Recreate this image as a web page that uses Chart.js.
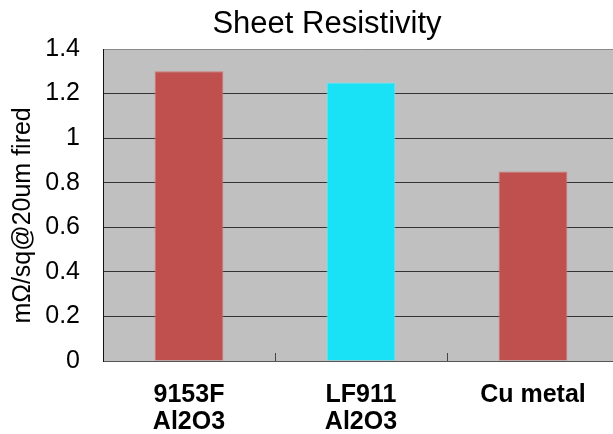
<!DOCTYPE html>
<html>
<head>
<meta charset="utf-8">
<style>
  body { margin: 0; background: #fff; }
  #wrap { width: 613px; height: 434px; overflow: hidden; }
</style>
<script src="https://cdn.jsdelivr.net/npm/chart.js@4/dist/chart.umd.min.js"></script>
</head>
<body>
<div id="wrap"><canvas id="chart" width="620" height="434"></canvas></div>
<script>
const chartTitle = "Sheet Resistivity";
const yTitle = "mΩ/sq@20um fired";
const categories = [["9153F", "Al2O3"], ["LF911", "Al2O3"], ["Cu metal"]];
const resistivity = [1.3, 1.25, 0.85];
const barColors = ["#C0504D", "#19E2F6", "#C0504D"];
const yMin = 0;
const yMax = 1.4;
const yStep = 0.2;

// grey plot area like the old excel chart
const plotBackground = {
  id: "plotBackground",
  beforeDraw(chart) {
    const { ctx, chartArea } = chart;
    ctx.save();
    ctx.fillStyle = "#C0C0C0";
    ctx.fillRect(chartArea.left, chartArea.top, chartArea.right - chartArea.left, chartArea.bottom - chartArea.top);
    ctx.restore();
  },
};

// title is a bit right of centre in the original
const titleText = {
  id: "titleText",
  afterDraw(chart) {
    const ctx = chart.ctx;
    ctx.save();
    ctx.font = "31px 'Liberation Sans', Arial, sans-serif";
    ctx.fillStyle = "#000";
    ctx.textAlign = "center";
    ctx.textBaseline = "alphabetic";
    ctx.fillText(chartTitle, 327, 33);
    ctx.restore();
  },
};

const data = {
  labels: categories,
  datasets: [
    {
      label: chartTitle,
      data: resistivity,
      backgroundColor: barColors,
      borderColor: ["#CF7B78", "#6CEEFA", "#CF7B78"],
      borderWidth: 1,
      barPercentage: 0.4,
      categoryPercentage: 1,
    },
  ],
};

const config = {
  type: "bar",
  data,
  options: {
    responsive: false,
    animation: false,
    layout: {
      // canvas is a few px wider than the window, plot runs off the right edge
      padding: { top: 49, right: 1, left: 0, bottom: 0 },
    },
    plugins: {
      legend: { display: false },
      title: { display: false },
      tooltip: { enabled: false },
    },
    scales: {
      x: {
        offset: true,
        grid: {
          offset: true,
          drawOnChartArea: false,
          drawTicks: true,
          tickLength: -8,
          color: "#444",
        },
        border: { display: true, color: "#555", width: 1 },
        ticks: {
          color: "#000",
          padding: 29,
          maxRotation: 0,
          font: { family: "'Liberation Sans', Arial, sans-serif", size: 25, weight: "bold", lineHeight: 1.08 },
        },
        afterFit(scale) {
          scale.height = 73;
        },
      },
      y: {
        min: yMin,
        max: yMax,
        grid: {
          drawTicks: false,
          color: (c) => (c.tick && c.tick.value >= yMax - 0.001 ? "#8A8A8A" : "#333"),
        },
        border: { display: true, color: "#111", width: 1 },
        ticks: {
          stepSize: yStep,
          color: "#000",
          padding: 23,
          font: { family: "'Liberation Sans', Arial, sans-serif", size: 25 },
          callback: (v) => String(Number(v.toFixed(1))),
        },
        title: {
          display: true,
          text: yTitle + "   ",
          color: "#000",
          padding: { top: 8, bottom: 0 },
          font: { family: "'Liberation Sans', Arial, sans-serif", size: 25 },
        },
        afterFit(scale) {
          scale.width = 103;
        },
      },
    },
  },
  plugins: [plotBackground, titleText],
};

const sheetChart = new Chart(document.getElementById("chart"), config);
</script>
</body>
</html>
